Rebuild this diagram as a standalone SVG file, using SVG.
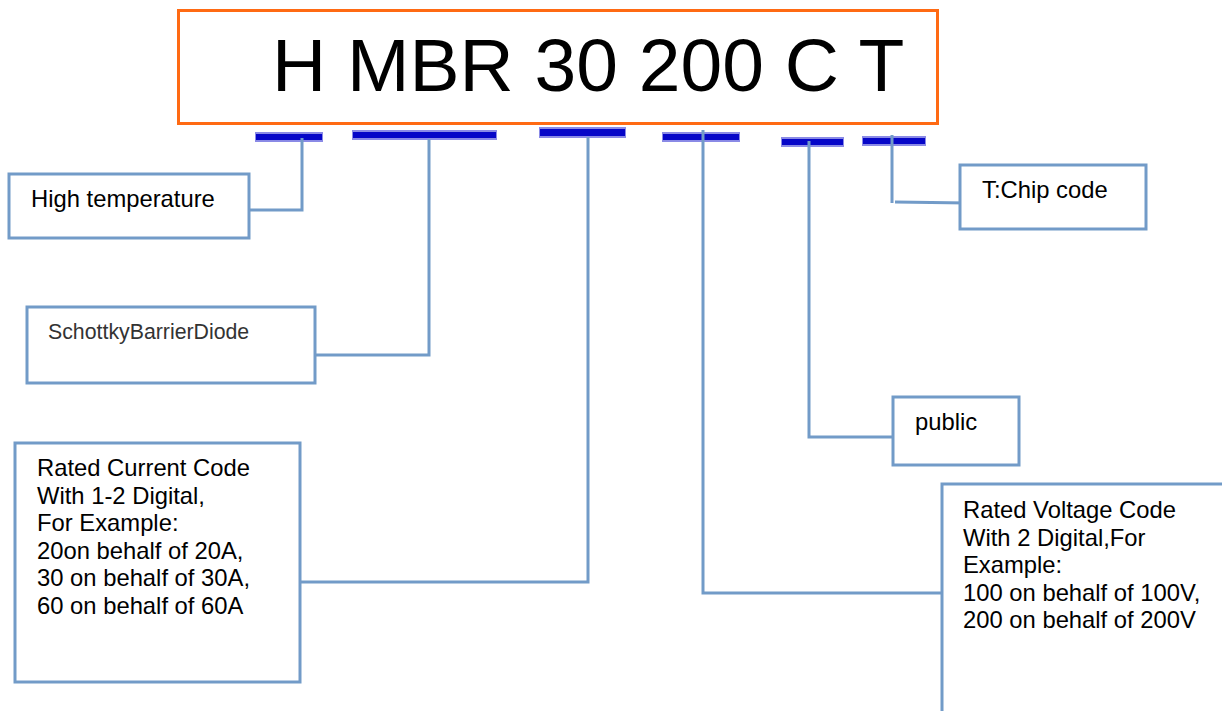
<svg xmlns="http://www.w3.org/2000/svg" width="1222" height="711" viewBox="0 0 1222 711">
<style>
.box{fill:#ffffff;stroke:#729bc8;stroke-width:3}
.con{fill:none;stroke:#729bc8;stroke-width:3}
.t{font-family:"Liberation Sans",Arial,sans-serif;font-size:23.8px;fill:#000}
.bar-o{fill:#8a8ae6}
.bar-i{fill:#0606c8}
</style>
<rect width="1222" height="711" fill="#ffffff"/>
<g id="title">
<rect x="178.5" y="10.5" width="759" height="113" fill="#ffffff" stroke="#ff6a13" stroke-width="3"/>
<text x="272" y="91" font-family="'Liberation Sans',Arial,sans-serif" font-size="75" fill="#000">H MBR 30 200 C T</text>
</g>
<g id="bars">
<rect class="bar-o" x="255" y="132" width="68" height="10"/><rect class="bar-i" x="256" y="134" width="66" height="6"/>
<rect class="bar-o" x="352" y="130" width="145" height="10"/><rect class="bar-i" x="353" y="132" width="143" height="6"/>
<rect class="bar-o" x="539" y="127" width="87" height="11"/><rect class="bar-i" x="540" y="129" width="85" height="7"/>
<rect class="bar-o" x="662" y="132" width="78" height="10"/><rect class="bar-i" x="663" y="134" width="76" height="6"/>
<rect class="bar-o" x="781" y="137" width="63" height="10"/><rect class="bar-i" x="782" y="139" width="61" height="6"/>
<rect class="bar-o" x="862" y="136" width="64" height="10"/><rect class="bar-i" x="863" y="138" width="62" height="6"/>
</g>
<g id="connectors">
<polyline class="con" points="302,138 302,210 249,210"/>
<polyline class="con" points="429,139 429,355 315,355"/>
<polyline class="con" points="588,137 588,582 300,582"/>
<polyline class="con" points="703,130 703,593 941,593"/>
<polyline class="con" points="809,141 809,437 893,437"/>
<polyline class="con" points="892,135 892,203"/>
<polyline class="con" points="895,202 967,203"/>
</g>
<g id="node-high">
<rect class="box" x="9" y="174" width="240" height="64"/>
<text class="t" x="31" y="207">High temperature</text>
</g>
<g id="node-sbd">
<rect class="box" x="27" y="307" width="288" height="76"/>
<text x="48" y="339" font-family="'Liberation Sans',Arial,sans-serif" font-size="21.3" fill="#333333">SchottkyBarrierDiode</text>
</g>
<g id="node-current">
<rect class="box" x="15" y="443" width="285" height="239"/>
<text class="t" x="37" y="476">Rated Current Code</text>
<text class="t" x="37" y="503.5">With 1-2 Digital,</text>
<text class="t" x="37" y="531">For Example:</text>
<text class="t" x="37" y="558.5">20on behalf of 20A,</text>
<text class="t" x="37" y="586">30 on behalf of 30A,</text>
<text class="t" x="37" y="613.5">60 on behalf of 60A</text>
</g>
<g id="node-voltage">
<rect class="box" x="942" y="484" width="300" height="250"/>
<text class="t" x="963" y="518">Rated Voltage Code</text>
<text class="t" x="963" y="545.5">With 2 Digital,For</text>
<text class="t" x="963" y="573">Example:</text>
<text class="t" x="963" y="600.5">100 on behalf of 100V,</text>
<text class="t" x="963" y="628">200 on behalf of 200V</text>
</g>
<g id="node-public">
<rect class="box" x="893" y="397" width="126" height="68"/>
<text class="t" x="915" y="430">public</text>
</g>
<g id="node-chip">
<rect class="box" x="960" y="165" width="186" height="64"/>
<text class="t" x="982" y="198">T:Chip code</text>
</g>
</svg>
